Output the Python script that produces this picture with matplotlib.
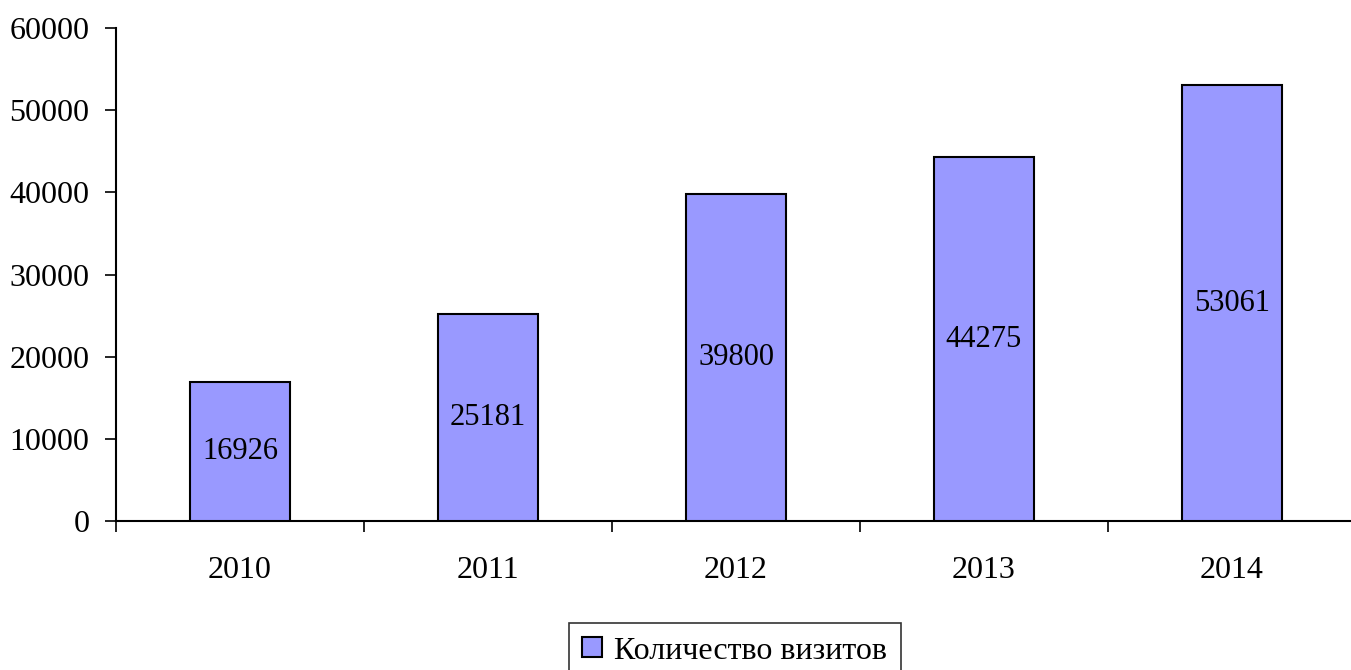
import matplotlib
matplotlib.use("Agg")
import matplotlib.pyplot as plt
import numpy as np

years = ["2010", "2011", "2012", "2013", "2014"]
visits = [16926, 25181, 39800, 44275, 53061]
series_name = "Количество визитов"

plt.rcParams['font.family'] = ['Liberation Serif', 'DejaVu Serif']

fig = plt.figure(figsize=(13.51, 6.70), dpi=100)
ax = fig.add_axes([116/1351, 149/670, 1240/1351, 493/670])

x = np.arange(len(years))
bars = ax.bar(x, visits, width=0.405, color="#9999FF", edgecolor="black",
              linewidth=1.5, label=series_name, zorder=3)

for b, v in zip(bars, visits):
    ax.text(b.get_x() + b.get_width() / 2, v / 2, str(v), ha="center",
            va="center", fontsize=22, zorder=4)

ax.set_xlim(-0.5, len(years) - 0.5)
ax.set_ylim(0, 60000)
ax.set_yticks(np.arange(0, 60001, 10000))
ax.tick_params(axis="y", labelsize=23, length=8, width=1.2, pad=11, direction="out")

# ticks at category boundaries, labels in the middle
ax.set_xticks(np.arange(-0.5, len(years), 1.0))
ax.set_xticklabels([])
ax.set_xticks(x, minor=True)
ax.set_xticklabels(years, minor=True)
ax.tick_params(axis="x", which="major", length=8, width=1.2, direction="out")
ax.tick_params(axis="x", which="minor", length=0, labelsize=23, pad=25)

for s in ["top", "right"]:
    ax.spines[s].set_visible(False)
for s in ["left", "bottom"]:
    ax.spines[s].set_linewidth(1.5)

leg = fig.legend(loc="upper center", bbox_to_anchor=(0.544, 0.07), fontsize=23,
                 frameon=True, fancybox=False, edgecolor="black",
                 handlelength=0.6, handleheight=0.6, handletextpad=0.4,
                 borderpad=0.42, borderaxespad=0)
leg.get_frame().set_linewidth(1.2)

fig.savefig("out.png", dpi=100)
